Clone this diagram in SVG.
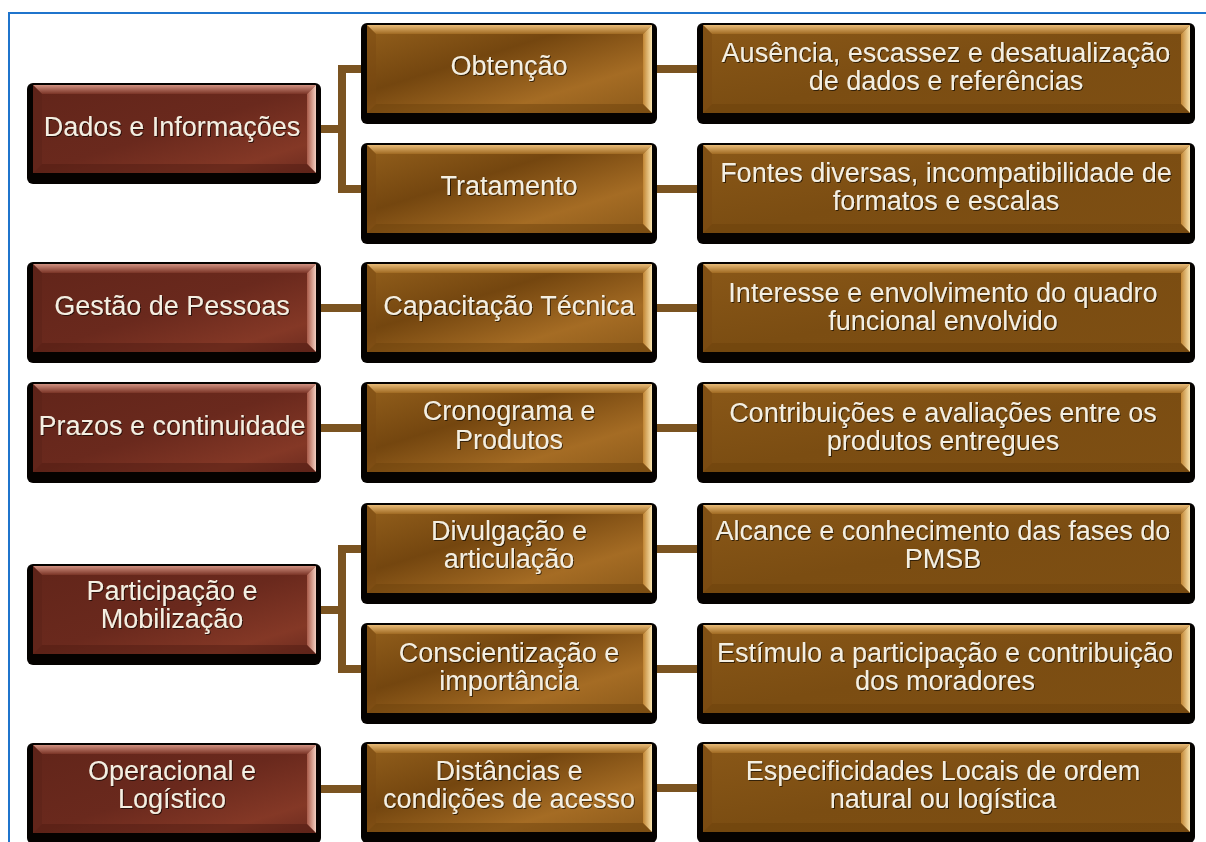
<svg xmlns="http://www.w3.org/2000/svg" xmlns:xlink="http://www.w3.org/1999/xlink" width="1206" height="842" viewBox="0 0 1206 842">
<style>
.t{font-family:"Liberation Sans",Arial,sans-serif;font-size:27px;fill:#f4efe2;text-anchor:middle;filter:url(#ts)}
.con{fill:none;stroke:#7b5421;stroke-width:8;stroke-linejoin:miter}
.sh{fill:#050200}
.fM{fill:url(#gM)}
.fG{fill:url(#gG)}
.fR{fill:url(#gR)}
.btM{fill:url(#btM)}
.brM{fill:url(#brM)}
.bbM{fill:#4e1a12;opacity:.45}
.blM{fill:#5a2117;opacity:.5}
.btG{fill:url(#btG)}
.brG{fill:url(#brG)}
.bbG{fill:#6a400c;opacity:.45}
.blG{fill:#7a4a12;opacity:.45}
</style>
<defs>
<filter id="ts" x="-5%" y="-20%" width="110%" height="140%">
<feDropShadow dx="1" dy="1" stdDeviation="0.6" flood-color="#000" flood-opacity="0.6"/>
</filter>
<linearGradient id="gM" x1="0" y1="0" x2="1" y2="1">
<stop offset="0" stop-color="#62251a"/>
<stop offset="0.5" stop-color="#6a291d"/>
<stop offset="0.82" stop-color="#843826"/>
<stop offset="1" stop-color="#6c2b1f"/>
</linearGradient>
<linearGradient id="gG" x1="0" y1="0" x2="1" y2="1">
<stop offset="0" stop-color="#94601c"/>
<stop offset="0.38" stop-color="#74460f"/>
<stop offset="0.72" stop-color="#a56c24"/>
<stop offset="1" stop-color="#8c5a1a"/>
</linearGradient>
<linearGradient id="gR" x1="0" y1="0" x2="1" y2="1">
<stop offset="0" stop-color="#8a5818"/>
<stop offset="0.5" stop-color="#7b4d12"/>
<stop offset="1" stop-color="#7e4f13"/>
</linearGradient>
<linearGradient id="btM" x1="0" y1="0" x2="0" y2="1">
<stop offset="0" stop-color="#d09080"/>
<stop offset="1" stop-color="#7a3426"/>
</linearGradient>
<linearGradient id="brM" x1="0" y1="0" x2="1" y2="0">
<stop offset="0" stop-color="#a85a48"/>
<stop offset="1" stop-color="#f4cfc0"/>
</linearGradient>
<linearGradient id="btG" x1="0" y1="0" x2="0" y2="1">
<stop offset="0" stop-color="#e8bb78"/>
<stop offset="1" stop-color="#a06a22"/>
</linearGradient>
<linearGradient id="brG" x1="0" y1="0" x2="1" y2="0">
<stop offset="0" stop-color="#c28634"/>
<stop offset="1" stop-color="#fae4ae"/>
</linearGradient>
<g id="boxL">
<rect class="sh" x="-6" y="-2" width="294" height="101" rx="6"/>
<rect class="fM" x="0" y="0" width="283" height="88"/>
<polygon class="btM" points="0,0 283,0 274,9 9,9"/>
<polygon class="brM" points="283,0 283,88 274,79 274,9"/>
<polygon class="bbM" points="0,88 283,88 274,79 9,79"/>
<polygon class="blM" points="0,0 9,9 9,79 0,88"/>
</g>
<g id="boxC">
<rect class="sh" x="-6" y="-2" width="296" height="101" rx="6"/>
<rect class="fG" x="0" y="0" width="285" height="88"/>
<polygon class="btG" points="0,0 285,0 276,9 9,9"/>
<polygon class="brG" points="285,0 285,88 276,79 276,9"/>
<polygon class="bbG" points="0,88 285,88 276,79 9,79"/>
<polygon class="blG" points="0,0 9,9 9,79 0,88"/>
</g>
<g id="boxR">
<rect class="sh" x="-6" y="-2" width="498" height="101" rx="6"/>
<rect class="fR" x="0" y="0" width="487" height="88"/>
<polygon class="btG" points="0,0 487,0 478,9 9,9"/>
<polygon class="brG" points="487,0 487,88 478,79 478,9"/>
<polygon class="bbG" points="0,88 487,88 478,79 9,79"/>
<polygon class="blG" points="0,0 9,9 9,79 0,88"/>
</g>
</defs>
<rect x="0" y="0" width="1206" height="842" fill="#ffffff"/>
<path d="M9 842 V13 H1206" fill="none" stroke="#1f74cc" stroke-width="2"/>

<g id="connectors">
<path class="con" d="M316 129 H342"/>
<path class="con" d="M367 69 H342 V189 H367"/>
<path class="con" d="M652 69 H703"/>
<path class="con" d="M652 189 H703"/>
<path class="con" d="M316 308 H367"/>
<path class="con" d="M652 308 H703"/>
<path class="con" d="M316 428 H367"/>
<path class="con" d="M652 428 H703"/>
<path class="con" d="M316 610 H342"/>
<path class="con" d="M367 549 H342 V669 H367"/>
<path class="con" d="M652 549 H703"/>
<path class="con" d="M652 669 H703"/>
<path class="con" d="M316 789 H367"/>
<path class="con" d="M652 788 H703"/>
</g>

<g id="n-dados"><use href="#boxL" x="33" y="85"/><text class="t" x="172" y="136">Dados e Informações</text></g>
<g id="n-gestao"><use href="#boxL" x="33" y="264"/><text class="t" x="172" y="315">Gestão de Pessoas</text></g>
<g id="n-prazos"><use href="#boxL" x="33" y="384"/><text class="t" x="172" y="435">Prazos e continuidade</text></g>
<g id="n-participacao"><use href="#boxL" x="33" y="566"/><text class="t" x="172" y="600">Participação e</text><text class="t" x="172" y="628">Mobilização</text></g>
<g id="n-operacional"><use href="#boxL" x="33" y="745"/><text class="t" x="172" y="780">Operacional e</text><text class="t" x="172" y="808">Logístico</text></g>

<g id="n-obtencao"><use href="#boxC" x="367" y="25"/><text class="t" x="509" y="75">Obtenção</text></g>
<g id="n-tratamento"><use href="#boxC" x="367" y="145"/><text class="t" x="509" y="195">Tratamento</text></g>
<g id="n-capacitacao"><use href="#boxC" x="367" y="264"/><text class="t" x="509" y="315">Capacitação Técnica</text></g>
<g id="n-cronograma"><use href="#boxC" x="367" y="384"/><text class="t" x="509" y="420">Cronograma e</text><text class="t" x="509" y="449">Produtos</text></g>
<g id="n-divulgacao"><use href="#boxC" x="367" y="505"/><text class="t" x="509" y="540">Divulgação e</text><text class="t" x="509" y="568">articulação</text></g>
<g id="n-conscientizacao"><use href="#boxC" x="367" y="625"/><text class="t" x="509" y="662">Conscientização e</text><text class="t" x="509" y="690">importância</text></g>
<g id="n-distancias"><use href="#boxC" x="367" y="744"/><text class="t" x="509" y="780">Distâncias e</text><text class="t" x="509" y="808">condições de acesso</text></g>

<g id="n-ausencia"><use href="#boxR" x="703" y="25"/><text class="t" x="946" y="62">Ausência, escassez e desatualização</text><text class="t" x="946" y="90">de dados e referências</text></g>
<g id="n-fontes"><use href="#boxR" x="703" y="145"/><text class="t" x="946" y="182">Fontes diversas, incompatibilidade de</text><text class="t" x="946" y="210">formatos e escalas</text></g>
<g id="n-interesse"><use href="#boxR" x="703" y="264"/><text class="t" x="943" y="302">Interesse e envolvimento do quadro</text><text class="t" x="943" y="330">funcional envolvido</text></g>
<g id="n-contribuicoes"><use href="#boxR" x="703" y="384"/><text class="t" x="943" y="422">Contribuições e avaliações entre os</text><text class="t" x="943" y="450">produtos entregues</text></g>
<g id="n-alcance"><use href="#boxR" x="703" y="505"/><text class="t" x="943" y="540">Alcance e conhecimento das fases do</text><text class="t" x="943" y="568">PMSB</text></g>
<g id="n-estimulo"><use href="#boxR" x="703" y="625"/><text class="t" x="945" y="662">Estímulo a participação e contribuição</text><text class="t" x="945" y="690">dos moradores</text></g>
<g id="n-especificidades"><use href="#boxR" x="703" y="744"/><text class="t" x="943" y="780">Especificidades Locais de ordem</text><text class="t" x="943" y="808">natural ou logística</text></g>
</svg>
